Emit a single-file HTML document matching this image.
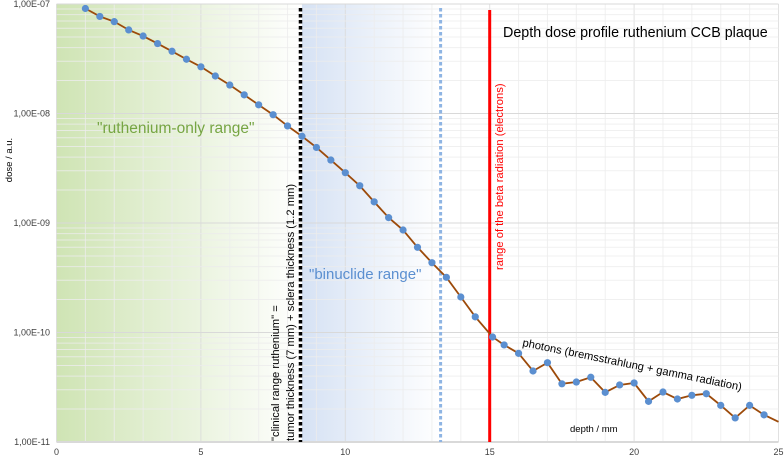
<!DOCTYPE html>
<html><head><meta charset="utf-8"><style>
body{margin:0;background:#fff;font-family:"Liberation Sans",sans-serif}
svg text{font-family:"Liberation Sans",sans-serif}
</style></head><body>
<svg id="c" width="784" height="460" xmlns="http://www.w3.org/2000/svg">
<defs>
<linearGradient id="gg" x1="0" x2="1" y1="0" y2="0"><stop offset="0" stop-color="#cfe4b4"/><stop offset="1" stop-color="#ffffff"/></linearGradient>
<linearGradient id="bg" x1="0" x2="1" y1="0" y2="0"><stop offset="0" stop-color="#d6e2f4"/><stop offset="1" stop-color="#ffffff"/></linearGradient>
</defs>
<g id="grid"></g>
<g id="marks"></g>
</svg>
<script>
const depths=[1,1.5,2,2.5,3,3.5,4,4.5,5,5.5,6,6.5,7,7.5,8,8.5,9,9.5,10,10.5,11,11.5,12,12.5,13,13.5,14,14.5,15.1,15.5,16,16.5,17,17.5,18,18.5,19,19.5,20,20.5,21,21.5,22,22.5,23,23.5,24,24.5,25];
const doses=[9.1e-8,7.7e-8,6.9e-8,5.8e-8,5.1e-8,4.35e-8,3.7e-8,3.13e-8,2.67e-8,2.2e-8,1.82e-8,1.48e-8,1.2e-8,9.75e-9,7.7e-9,6.2e-9,4.9e-9,3.76e-9,2.88e-9,2.19e-9,1.56e-9,1.12e-9,8.63e-10,6.0e-10,4.34e-10,3.19e-10,2.11e-10,1.39e-10,9.1e-11,7.7e-11,6.45e-11,4.45e-11,5.3e-11,3.4e-11,3.53e-11,3.9e-11,2.84e-11,3.32e-11,3.46e-11,2.35e-11,2.86e-11,2.47e-11,2.67e-11,2.76e-11,2.16e-11,1.66e-11,2.16e-11,1.77e-11,1.53e-11];
const xTicks=[0,5,10,15,20,25];
const yTicks=[-7,-8,-9,-10,-11];
const yTickLabels=["1,00E-07","1,00E-08","1,00E-09","1,00E-10","1,00E-11"];
const clinicalRange=8.5, binuclideEnd=13.3, betaRange=15;
const X0=56.5,X1=778.5,Y0=4,Y1=442;
const xs=v=>X0+(v/25)*(X1-X0);
const ys=v=>Y0+(-7-Math.log10(v))/4*(Y1-Y0);
const NS="http://www.w3.org/2000/svg";
function mk(t,a,p){const e=document.createElementNS(NS,t);for(const k in a)e.setAttribute(k,a[k]);p.appendChild(e);return e;}
const g=document.getElementById('grid'), m=document.getElementById('marks');
let r=mk('rect',{x:X0,y:Y0,width:xs(clinicalRange)-X0,height:Y1-Y0,fill:'url(#gg)'},g);


r=mk('rect',{x:xs(clinicalRange),y:Y0,width:xs(binuclideEnd)-xs(clinicalRange),height:Y1-Y0,fill:'url(#bg)'},g);


for(let i=0;i<=25;i++){mk('line',{x1:xs(i),x2:xs(i),y1:Y0,y2:Y1,stroke:i%5?'#ececec':'#d9d9d9','stroke-width':1,'stroke-opacity':0.8},g);}
for(let d=-11;d<-7;d++){for(let k=2;k<10;k++){const y=ys(k*Math.pow(10,d));mk('line',{x1:X0,x2:X1,y1:y,y2:y,stroke:'#ececec','stroke-opacity':0.8},g);}}
yTicks.forEach((t,i)=>{const y=ys(Math.pow(10,t));mk('line',{x1:X0,x2:X1,y1:y,y2:y,stroke:'#d9d9d9'},g);
 const tx=mk('text',{x:50,y:y+3,'text-anchor':'end','font-size':9,fill:'#404040'},g);tx.textContent=yTickLabels[i];
 
 });
mk('line',{x1:X0,x2:X1,y1:Y1,y2:Y1,stroke:'#d9d9d9','stroke-width':2},g);
xTicks.forEach(t=>{const tx=mk('text',{x:xs(t),y:455,'text-anchor':'middle','font-size':9,fill:'#404040'},g);tx.textContent=t;
 
 });
let l=mk('line',{x1:xs(clinicalRange)-1.5,x2:xs(clinicalRange)-1.5,y1:8,y2:Y1,stroke:'#000','stroke-width':3.5,'stroke-dasharray':'3.5 2.5'},m);


l=mk('line',{x1:xs(binuclideEnd),x2:xs(binuclideEnd),y1:8,y2:Y1,stroke:'#8eb4e3','stroke-width':3,'stroke-dasharray':'3.5 2.5'},m);


l=mk('line',{x1:xs(betaRange),x2:xs(betaRange),y1:10,y2:Y1,stroke:'#ff0000','stroke-width':3},m);


const pts=depths.map((d,i)=>xs(d)+','+ys(doses[i])).join(' ');
l=mk('polyline',{points:pts,fill:'none',stroke:'#9c4a0a','stroke-width':1.8},m);


depths.forEach((d,i)=>{if(i===depths.length-1)return;const c=mk('circle',{cx:xs(d),cy:ys(doses[i]),r:3.6,fill:'#5b8fd0'},m);
 
 });
function txt(s,a,name){const t=mk('text',a,m);t.textContent=s;
 
 return t;}
txt('Depth dose profile ruthenium CCB plaque',{x:503,y:37,'font-size':14.3,fill:'#000'},'chart-title');
txt('"ruthenium-only range"',{x:97,y:133,'font-size':15.5,fill:'#76a543'},'ruthenium-only-label');
txt('"binuclide range"',{x:309,y:279,'font-size':15,fill:'#5b8fd0'},'binuclide-label');
txt('"clinical range ruthenium" =',{x:0,y:0,'font-size':11.2,fill:'#000',transform:'translate(279,441) rotate(-90)'},'clinical-range-label-1');
txt('tumor thickness (7 mm)  + sclera thickness (1.2 mm)',{x:0,y:0,'font-size':11.2,fill:'#000',transform:'translate(294,441) rotate(-90)'},'clinical-range-label-2');
txt('range of the beta radiation (electrons)',{x:0,y:0,'font-size':11.2,fill:'#ff0000',transform:'translate(503,270) rotate(-90)'},'beta-range-label');
txt('photons (bremsstrahlung + gamma radiation)',{x:0,y:0,'font-size':11.2,fill:'#000',transform:'translate(522,346) rotate(11.5)'},'photons-label');
txt('depth / mm',{x:570,y:432,'font-size':9.5,fill:'#000'},'x-axis-title');
txt('dose / a.u.',{x:0,y:0,'font-size':9.5,fill:'#000','text-anchor':'middle',transform:'translate(12,160) rotate(-90)'},'y-axis-title');
</script>
</body></html>
